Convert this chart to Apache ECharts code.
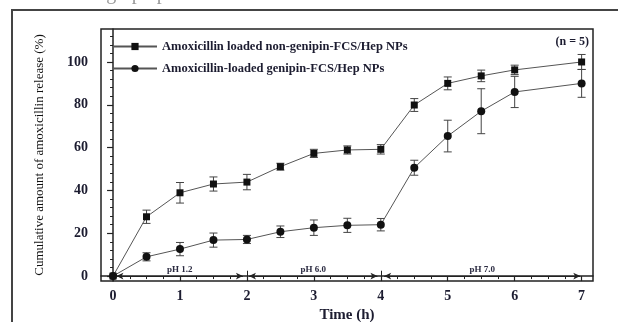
<!DOCTYPE html>
<html>
<head>
<meta charset="utf-8">
<script src="https://cdn.jsdelivr.net/npm/echarts@6/dist/echarts.min.js"></script>
<style>
  html, body { margin: 0; padding: 0; background: #fff; }
  #chart { width: 618px; height: 322px; }
</style>
</head>
<body>
<div id="chart"></div>
<script>
// 时间点 (h)
const timeH = [0, 0.5, 1, 1.5, 2, 2.5, 3, 3.5, 4, 4.5, 5, 5.5, 6, 7]
// non-genipin 组
const nonGenipin = [0, 27.7, 38.9, 43, 43.9, 51.1, 57.3, 58.9, 59.2, 79.9, 90, 93.5, 96.3, 100]
const nonGenipinErr = [0, 3.1, 4.8, 3.3, 3.6, 1.6, 1.9, 1.9, 2.2, 3, 3, 2.7, 2.2, 3.5]
// genipin 组
const genipin = [0, 9, 12.6, 16.8, 17.1, 20.7, 22.6, 23.7, 24, 50.6, 65.4, 77, 86, 90]
const genipinErr = [0, 1.9, 3.1, 3.3, 1.9, 2.7, 3.6, 3.3, 2.9, 3.5, 7.4, 10.5, 7.3, 6.5]

const seriesNames = ['Amoxicillin loaded non-genipin-FCS/Hep NPs', 'Amoxicillin-loaded genipin-FCS/Hep NPs']

// 刻度
const xMajorTicks = [0, 1, 2, 3, 4, 5, 6, 7]
const xMinorTicks = [0.25, 0.5, 0.75, 1.25, 1.5, 1.75, 2.25, 2.5, 2.75, 3.25, 3.5, 3.75,
  4.25, 4.5, 4.75, 5.25, 5.5, 5.75, 6.25, 6.5, 6.75]
const yMajorTicks = [0, 20, 40, 60, 80, 100]
const yMinorTicks = [4, 8, 12, 16, 24, 28, 32, 36, 44, 48, 52, 56, 64, 68, 72, 76,
  84, 88, 92, 96, 104, 108, 112]

// pH 区间
const phLabels = ['pH 1.2', 'pH 6.0', 'pH 7.0']
const phStart = [0.05, 2.03, 4.05]
const phEnd = [1.94, 3.95, 6.98]
const phBounds = [2, 4]

const serif = "'Liberation Serif', 'Times New Roman', serif"
const labelColor = '#1c1c30'

const toPairs = (ys) => timeH.map((x, i) => [x, ys[i]])
const toErr = (ys, es) => timeH.map((x, i) => [x, ys[i] - es[i], ys[i] + es[i]]).filter((d, i) => es[i] > 0)

const errRenderer = function (params, api) {
  const x = api.value(0)
  const top = api.coord([x, api.value(2)])
  const bot = api.coord([x, api.value(1)])
  const w = 4
  const style = { stroke: '#444', lineWidth: 1 }
  return {
    type: 'group',
    children: [
      { type: 'line', shape: { x1: top[0], y1: top[1], x2: bot[0], y2: bot[1] }, style: style },
      { type: 'line', shape: { x1: top[0] - w, y1: top[1], x2: top[0] + w, y2: top[1] }, style: style },
      { type: 'line', shape: { x1: bot[0] - w, y1: bot[1], x2: bot[0] + w, y2: bot[1] }, style: style },
    ]
  }
}

const chart = echarts.init(document.getElementById('chart'))

const xBase = {
  type: 'value',
  min: -0.18,
  max: 7.17,
  position: 'bottom',
  splitLine: { show: false },
}
const yBase = {
  type: 'value',
  min: -2.3,
  max: 115.4,
  position: 'left',
  splitLine: { show: false },
}

chart.setOption({
  animation: false,
  grid: {
    left: 101, top: 29, right: 25, bottom: 41,
    show: true,
    borderColor: '#222',
    borderWidth: 1.5,
    outerBoundsMode: 'none',
  },

  legend: {
    data: seriesNames,
    orient: 'vertical',
    left: 107,
    top: 35,
    itemWidth: 44,
    itemHeight: 9,
    itemGap: 9,
    textStyle: { fontFamily: serif, fontWeight: 'bold', fontSize: 12.5, color: labelColor },
  },

  xAxis: [
    Object.assign({}, xBase, {
      name: 'Time (h)',
      nameLocation: 'middle',
      nameGap: 23,
      nameTextStyle: { fontFamily: serif, fontWeight: 'bold', fontSize: 15, color: labelColor },
      axisLine: { lineStyle: { color: '#222', width: 1.5 } },
      axisTick: { customValues: xMajorTicks, length: 5, lineStyle: { color: '#222', width: 1.2 } },
      axisLabel: {
        customValues: xMajorTicks, margin: 8,
        fontFamily: serif, fontWeight: 'bold', fontSize: 14, color: labelColor
      },
    }),
    Object.assign({}, xBase, {
      axisLine: { show: false },
      axisTick: { customValues: xMinorTicks, length: 3, lineStyle: { color: '#222' } },
      axisLabel: { show: false },
    }),
  ],

  yAxis: [
    Object.assign({}, yBase, {
      name: 'Cumulative amount of amoxicillin release (%)',
      nameLocation: 'middle',
      nameGap: 55,
      nameTextStyle: { fontFamily: serif, fontSize: 13, color: '#111' },
      axisLine: { lineStyle: { color: '#222', width: 1.5 } },
      axisTick: { customValues: yMajorTicks, length: 6, lineStyle: { color: '#222', width: 1.2 } },
      axisLabel: {
        customValues: yMajorTicks, margin: 13,
        fontFamily: serif, fontWeight: 'bold', fontSize: 14, color: labelColor
      },
    }),
    Object.assign({}, yBase, {
      axisLine: { show: false },
      axisTick: { customValues: yMinorTicks, length: 3, lineStyle: { color: '#222' } },
      axisLabel: { show: false },
    }),
  ],

  graphic: [
    {
      type: 'polyline',
      shape: { points: [[12, 322], [12, 10], [618, 10]] },
      style: { stroke: '#444', lineWidth: 2, fill: null },
    },
    {
      type: 'text',
      left: 18,
      top: -16,
      style: { text: 'ated in the graph provided below.', font: '20px ' + serif, fill: '#999' },
    },
    {
      type: 'text',
      right: 29,
      top: 36,
      style: { text: '(n = 5)', font: 'bold 12px ' + serif, fill: labelColor },
    },
  ],

  series: [
    {
      name: seriesNames[0],
      type: 'line',
      data: toPairs(nonGenipin),
      symbol: 'rect',
      symbolSize: 7,
      itemStyle: { color: '#111' },
      lineStyle: { color: '#555', width: 1 },
      z: 3,
    },
    {
      name: seriesNames[1],
      type: 'line',
      data: toPairs(genipin),
      symbol: 'circle',
      symbolSize: 8,
      itemStyle: { color: '#111' },
      lineStyle: { color: '#555', width: 1 },
      z: 3,
    },
    {
      name: 'err1',
      type: 'custom',
      renderItem: errRenderer,
      encode: { x: 0, y: [1, 2] },
      data: toErr(nonGenipin, nonGenipinErr),
      z: 2,
    },
    {
      name: 'err2',
      type: 'custom',
      renderItem: errRenderer,
      encode: { x: 0, y: [1, 2] },
      data: toErr(genipin, genipinErr),
      z: 2,
    },
    {
      name: 'phArrows',
      type: 'line',
      data: [],
      markLine: {
        silent: true,
        symbol: ['arrow', 'arrow'],
        symbolSize: [5, 7],
        lineStyle: { color: '#222', width: 1, type: 'solid' },
        label: {
          position: 'middle',
          distance: 2,
          fontFamily: serif,
          fontWeight: 'bold',
          fontSize: 9,
          color: '#2a2a40',
          formatter: '{b}'
        },
        data: phLabels.map((name, i) => [
          { name: name, coord: [phStart[i], 0] },
          { coord: [phEnd[i], 0] }
        ]),
      }
    },
    {
      name: 'phBounds',
      type: 'line',
      data: [],
      markLine: {
        silent: true,
        symbol: 'none',
        lineStyle: { color: '#222', width: 1, type: 'solid' },
        label: { show: false },
        data: phBounds.map((x) => [
          { coord: [x, -1.5] },
          { coord: [x, 2.5] }
        ]),
      }
    },
  ]
})
</script>
</body>
</html>
